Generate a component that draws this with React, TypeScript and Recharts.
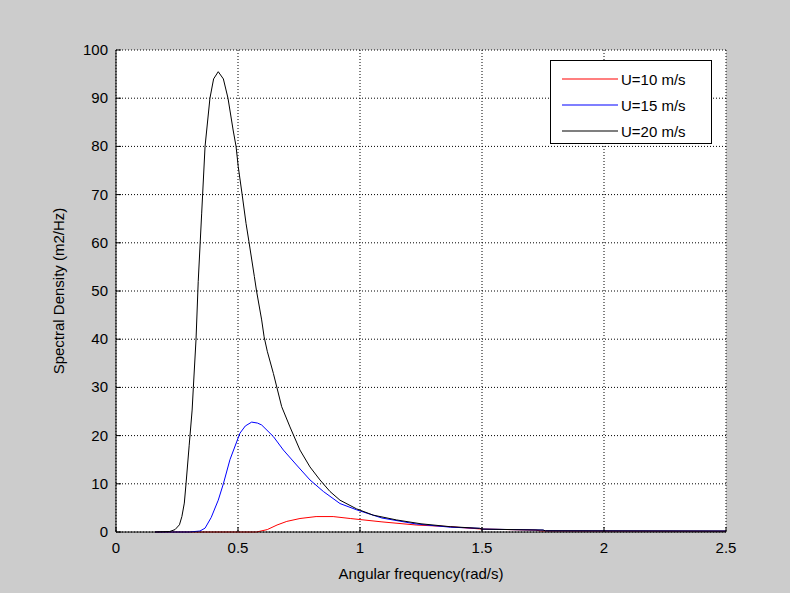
import React from "react";
import {
  LineChart,
  Line,
  XAxis,
  YAxis,
  CartesianGrid,
  Legend,
} from "recharts";

// frequencies (rad/s) and spectral density (m2/Hz)
const freq10 = [0.16, 0.576, 0.62, 0.66, 0.7, 0.754, 0.82, 0.89, 0.96, 1.09, 1.23, 1.37, 1.5, 1.72, 1.74, 2.5];
const s10 = [0, 0, 0.5, 1.45, 2.2, 2.8, 3.2, 3.2, 2.8, 2.1, 1.45, 1.1, 0.6, 0.4, 0.2, 0.15];

const freq15 = [0.16, 0.3, 0.344, 0.365, 0.39, 0.419, 0.44, 0.467, 0.508, 0.53, 0.556, 0.58, 0.597, 0.645, 0.686, 0.74, 0.795, 0.85, 0.918, 0.986, 1.09, 1.23, 1.37, 1.49, 1.5, 1.75, 1.76, 2.5];
const s15 = [0, 0, 0.2, 0.8, 3, 6.6, 10, 15, 20.5, 22, 22.8, 22.6, 22.2, 19.8, 17, 13.9, 10.8, 8.4, 5.9, 4.6, 2.9, 1.66, 1.0, 0.76, 0.6, 0.4, 0.25, 0.2];

const freq20 = [0.16, 0.22, 0.242, 0.26, 0.27, 0.28, 0.287, 0.3, 0.312, 0.317, 0.328, 0.337, 0.351, 0.365, 0.385, 0.4, 0.419, 0.44, 0.459, 0.48, 0.492, 0.501, 0.517, 0.533, 0.545, 0.567, 0.576, 0.597, 0.607, 0.62, 0.645, 0.679, 0.713, 0.754, 0.795, 0.836, 0.877, 0.918, 0.986, 1.054, 1.15, 1.25, 1.37, 1.49, 1.5, 1.75, 1.76, 2.5];
const s20 = [0, 0.1, 0.5, 1.5, 3.2, 6, 10, 18, 25.3, 30, 40, 52, 66, 80, 90, 94, 95.5, 94, 90, 83.4, 80, 75.8, 70, 64, 60.2, 53, 50, 44, 40.5, 37.5, 32.9, 26, 21.8, 17, 13.5, 10.8, 8.4, 6.6, 4.8, 3.5, 2.5, 1.7, 1.1, 0.76, 0.6, 0.4, 0.25, 0.2];

const xTicks = [0, 0.5, 1, 1.5, 2, 2.5];
const yTicks = [0, 10, 20, 30, 40, 50, 60, 70, 80, 90, 100];
const seriesNames = ["U=10 m/s", "U=15 m/s", "U=20 m/s"];
const seriesColors = ["#ff0000", "#0000ff", "#000000"];

const toPoints = (xs: number[], ys: number[]) => xs.map((x, i) => ({ x, y: ys[i] }));

const FONT = "'Liberation Sans', Arial, sans-serif";

const BottomTick = ({ x, y, payload }: any) => (
  <g>
    <line x1={x} y1={y} x2={x} y2={y - 5} stroke="#000" />
    <text x={x} y={y + 21} textAnchor="middle" fontSize={15} fontFamily={FONT} fill="#000">
      {payload.value}
    </text>
  </g>
);

const LeftTick = ({ x, y, payload }: any) => (
  <g>
    <line x1={x} y1={y} x2={x + 5} y2={y} stroke="#000" />
    <text x={x - 8} y={y + 5} textAnchor="end" fontSize={15} fontFamily={FONT} fill="#000">
      {payload.value}
    </text>
  </g>
);

const TopTick = ({ x, y }: any) => <line x1={x} y1={y} x2={x} y2={y + 5} stroke="#000" />;
const RightTick = ({ x, y }: any) => <line x1={x} y1={y} x2={x - 5} y2={y} stroke="#000" />;

const YLabel = ({ viewBox }: any) => {
  const cx = viewBox.x + 22;
  const cy = viewBox.y + viewBox.height / 2;
  return (
    <text
      x={cx}
      y={cy}
      transform={`rotate(-90, ${cx}, ${cy})`}
      textAnchor="middle"
      dominantBaseline="central"
      fontSize={15}
      fontFamily={FONT}
      fill="#000"
    >
      Spectral Density (m2/Hz)
    </text>
  );
};

const LegendBox = () => (
  <div
    style={{
      width: 162,
      height: 84,
      border: "1px solid #000",
      background: "#fff",
      boxSizing: "border-box",
      padding: "5px 0 0 11px",
      fontFamily: FONT,
      fontSize: 15,
      color: "#000",
    }}
  >
    {seriesNames.map((name, i) => (
      <div key={name} style={{ display: "flex", alignItems: "center", height: 26 }}>
        <svg width={56} height={4} style={{ marginRight: 3 }}>
          <line x1={0} y1={2} x2={56} y2={2} stroke={seriesColors[i]} strokeWidth={1.2} />
        </svg>
        <span>{name}</span>
      </div>
    ))}
  </div>
);

export default function App() {
  return (
    <div style={{ position: "absolute", left: 0, top: 0, width: 790, height: 593, background: "#cccccc" }}>
      <LineChart width={790} height={593} margin={{ top: 50, right: 64, bottom: 8, left: 36 }}>
        <CartesianGrid
          fill="#ffffff"
          fillOpacity={1}
          stroke="#000"
          strokeDasharray="1 2"
          horizontalValues={yTicks}
          verticalValues={xTicks}
        />
        <XAxis
          dataKey="x"
          type="number"
          domain={[0, 2.5]}
          ticks={xTicks}
          interval={0}
          height={53}
          tickSize={0}
          tickMargin={0}
          tickLine={false}
          axisLine={{ stroke: "#000" }}
          tick={<BottomTick />}
          label={{
            value: "Angular frequency(rad/s)",
            position: "insideBottom",
            offset: 6,
            fontSize: 15,
            fontFamily: FONT,
            fill: "#000",
          }}
        />
        <XAxis
          xAxisId="top"
          orientation="top"
          type="number"
          domain={[0, 2.5]}
          ticks={xTicks}
          interval={0}
          height={0}
          tickSize={0}
          tickLine={false}
          axisLine={{ stroke: "#000" }}
          tick={<TopTick />}
        />
        <YAxis
          type="number"
          domain={[0, 100]}
          ticks={yTicks}
          interval={0}
          width={80}
          tickSize={0}
          tickMargin={0}
          tickLine={false}
          axisLine={{ stroke: "#000" }}
          tick={<LeftTick />}
          label={<YLabel />}
        />
        <YAxis
          yAxisId="right"
          orientation="right"
          type="number"
          domain={[0, 100]}
          ticks={yTicks}
          interval={0}
          width={0}
          tickSize={0}
          tickLine={false}
          axisLine={{ stroke: "#000" }}
          tick={<RightTick />}
        />
        <Legend
          layout="vertical"
          verticalAlign="middle"
          align="center"
          content={<LegendBox />}
          wrapperStyle={{ position: "absolute", left: 550, top: 60, width: 162, height: 84 }}
        />
        {[toPoints(freq10, s10), toPoints(freq15, s15), toPoints(freq20, s20)].map((pts, i) => (
          <Line
            key={seriesNames[i]}
            data={pts}
            dataKey="y"
            name={seriesNames[i]}
            type="linear"
            stroke={seriesColors[i]}
            strokeWidth={1}
            dot={false}
            isAnimationActive={false}
          />
        ))}
      </LineChart>
    </div>
  );
}
